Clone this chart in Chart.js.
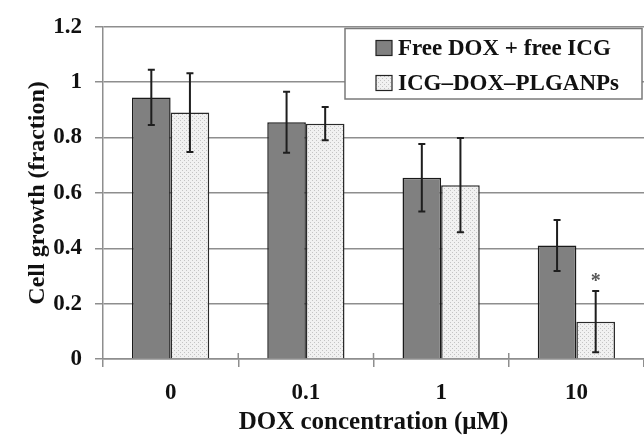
<!DOCTYPE html>
<html>
<head>
<meta charset="utf-8">
<script src="https://cdn.jsdelivr.net/npm/chart.js@4.4.1/dist/chart.umd.min.js"></script>
<style>
  html, body { margin: 0; padding: 0; background: #fff; }
  #wrap { width: 644px; height: 438px; }
</style>
</head>
<body>
<div id="wrap"><canvas id="myChart" width="644" height="438"></canvas></div>
<script>
const categories = ["0", "0.1", "1", "10"];
const seriesNames = ["Free DOX + free ICG", "ICG\u2013DOX\u2013PLGANPs"];
const freeValues = [0.945, 0.855, 0.655, 0.41];
const freeErrors = [0.10, 0.11, 0.122, 0.092];
const npValues = [0.89, 0.85, 0.628, 0.135];
const npErrors = [0.142, 0.06, 0.17, 0.111];
const yTicks = [0, 0.2, 0.4, 0.6, 0.8, 1, 1.2];
const starred = [null, null, null, "*"]; // significance mark over nanoparticle bars

const FONT = "'Liberation Serif', 'Times New Roman', serif";
const gridColor = "#8e8e8e";

// dotted light fill for the nanoparticle bars
function dotPattern() {
  const c = document.createElement("canvas");
  c.width = 4;
  c.height = 4;
  const p = c.getContext("2d");
  p.fillStyle = "#f1f1f1";
  p.fillRect(0, 0, 4, 4);
  p.fillStyle = "#c4c4c4";
  p.fillRect(0, 0, 1, 1);
  p.fillRect(2, 2, 1, 1);
  return p.createPattern(c, "repeat");
}
const lightFill = dotPattern();

const errorBars = {
  id: "errorBars",
  afterDatasetsDraw(chart) {
    const ctx = chart.ctx;
    const y = chart.scales.y;
    const errs = [freeErrors, npErrors];
    ctx.save();
    ctx.strokeStyle = "#1e1e1e";
    ctx.lineWidth = 2;
    chart.data.datasets.forEach((ds, di) => {
      chart.getDatasetMeta(di).data.forEach((bar, i) => {
        const v = ds.data[i];
        const e = errs[di][i];
        const top = y.getPixelForValue(v + e);
        const bot = y.getPixelForValue(v - e);
        ctx.beginPath();
        ctx.moveTo(bar.x, top);
        ctx.lineTo(bar.x, bot);
        ctx.moveTo(bar.x - 3.5, top);
        ctx.lineTo(bar.x + 3.5, top);
        ctx.moveTo(bar.x - 3.5, bot);
        ctx.lineTo(bar.x + 3.5, bot);
        ctx.stroke();
        if (di === 1 && starred[i]) {
          ctx.fillStyle = "#555";
          ctx.font = "bold 20px " + FONT;
          ctx.textAlign = "center";
          ctx.textBaseline = "middle";
          ctx.fillText(starred[i], bar.x, top - 9);
        }
      });
    });
    ctx.restore();
  },
};

// x tick marks in the reference cross the axis line slightly
const crossTicks = {
  id: "crossTicks",
  afterDraw(chart) {
    const ctx = chart.ctx;
    const x = chart.scales.x;
    const yb = chart.chartArea.bottom;
    const half = (x.getPixelForValue(1) - x.getPixelForValue(0)) / 2;
    ctx.save();
    ctx.strokeStyle = gridColor;
    ctx.lineWidth = 1.5;
    for (let i = 1; i < categories.length; i++) {
      const px = x.getPixelForValue(i) - half;
      ctx.beginPath();
      ctx.moveTo(px, yb - 6);
      ctx.lineTo(px, yb);
      ctx.stroke();
    }
    ctx.restore();
  },
};

const boxLegend = {
  id: "boxLegend",
  afterDraw(chart) {
    const ctx = chart.ctx;
    const bx = 345, by = 28.5, bw = 297, bh = 70.5;
    ctx.save();
    ctx.fillStyle = "#fff";
    ctx.fillRect(bx, by, bw, bh);
    ctx.strokeStyle = "#7a7a7a";
    ctx.lineWidth = 1.5;
    ctx.strokeRect(bx, by, bw, bh);
    const rows = [48, 83];
    chart.data.datasets.forEach((ds, i) => {
      const cy = rows[i];
      ctx.fillStyle = ds.backgroundColor;
      ctx.fillRect(376, cy - 7.5, 16, 15);
      ctx.strokeStyle = "#222";
      ctx.lineWidth = 1.2;
      ctx.strokeRect(376, cy - 7.5, 16, 15);
      ctx.fillStyle = "#111";
      ctx.font = "bold 23px " + FONT;
      ctx.textAlign = "left";
      ctx.textBaseline = "middle";
      ctx.fillText(ds.label, 398, cy + 1);
    });
    ctx.restore();
  },
};

const config = {
  type: "bar",
  data: {
    labels: categories,
    datasets: [
      {
        label: seriesNames[0],
        data: freeValues,
        backgroundColor: "#808080",
        borderColor: "#1a1a1a",
        borderWidth: 1.5,
      },
      {
        label: seriesNames[1],
        data: npValues,
        backgroundColor: lightFill,
        borderColor: "#2a2a2a",
        borderWidth: 1.5,
      },
    ],
  },
  options: {
    responsive: false,
    animation: false,
    events: [],
    layout: { padding: { top: 22, right: -5, left: 0, bottom: 0 } },
    datasets: {
      bar: { categoryPercentage: 0.571, barPercentage: 1 },
    },
    plugins: {
      legend: { display: false },
      tooltip: { enabled: false },
      title: { display: false },
    },
    scales: {
      x: {
        offset: true,
        afterFit: (scale) => { scale.height = 79; },
        grid: {
          offset: true,
          drawOnChartArea: false,
          drawTicks: true,
          tickLength: 8,
          color: gridColor,
          lineWidth: 1.5,
        },
        border: { color: gridColor, width: 1.5 },
        ticks: {
          color: "#111",
          padding: 12,
          font: { family: FONT, size: 23, weight: "bold" },
        },
        title: {
          display: true,
          text: "DOX concentration (\u03bcM)",
          color: "#111",
          padding: { top: 0, bottom: 0 },
          font: { family: FONT, size: 25, weight: "bold" },
        },
      },
      y: {
        min: 0,
        max: 1.2,
        afterFit: (scale) => { scale.width = 103; },
        afterBuildTicks: (scale) => {
          scale.ticks = yTicks.map((v) => ({ value: v }));
        },
        grid: {
          color: gridColor,
          lineWidth: 1.5,
          tickLength: 8,
        },
        border: { color: gridColor, width: 1.5 },
        ticks: {
          color: "#111",
          padding: 13,
          callback: (v) => String(+v.toFixed(1)),
          font: { family: FONT, size: 23, weight: "bold" },
        },
        title: {
          display: true,
          text: "Cell growth (fraction)",
          color: "#111",
          padding: { top: 23, bottom: 0 },
          font: { family: FONT, size: 24, weight: "bold" },
        },
      },
    },
  },
  plugins: [errorBars, crossTicks, boxLegend],
};

const myChart = new Chart(document.getElementById("myChart").getContext("2d"), config);
</script>
</body>
</html>
